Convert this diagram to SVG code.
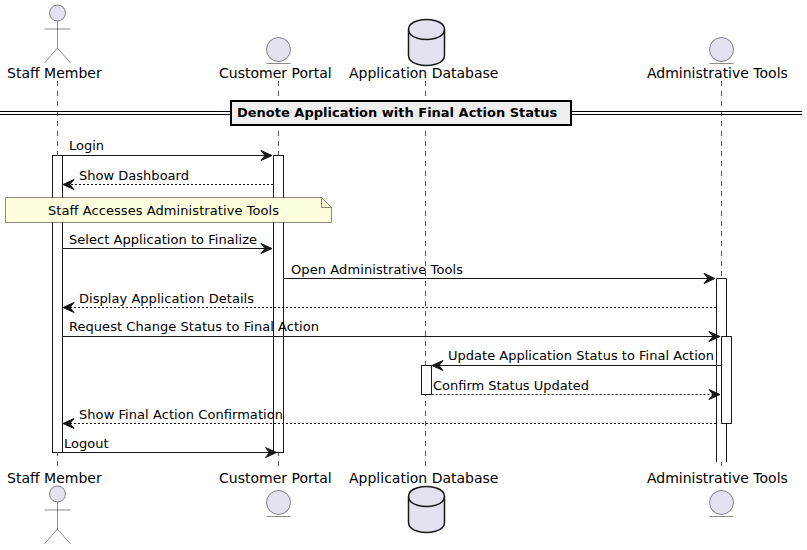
<svg xmlns="http://www.w3.org/2000/svg" width="807" height="550" viewBox="0 0 807 550">
<style>
text{font-family:"DejaVu Sans",sans-serif;font-size:13px;fill:#000}
.name{font-size:14px}
.life{stroke:#555;stroke-width:1;stroke-dasharray:5 5;fill:none}
.act{fill:#fff;stroke:#181818;stroke-width:1}
.actor{fill:#E2E2F0;stroke:#181818;stroke-width:.5}
.limb{fill:none;stroke:#181818;stroke-width:.5}
.ent{fill:#E2E2F0;stroke:#181818;stroke-width:.5}
.db{fill:#E2E2F0;stroke:#181818;stroke-width:1.5}
.m{stroke:#181818;stroke-width:1;fill:none}
.d{stroke:#181818;stroke-width:1;fill:none;stroke-dasharray:2 2}
.h{fill:#181818;stroke:#181818;stroke-width:1}
</style>
<defs>
<g id="stick"><circle class="actor" cx="0" cy="13" r="8"/><path class="limb" d="M0 21V48M-13 29H13M0 48L-13 63M0 48L13 63"/></g>
<g id="entity"><circle class="ent" cx="0" cy="12.5" r="12"/><path class="limb" d="M-12 26.5H12"/></g>
<g id="cyl"><path class="db" d="M-18 10C-18 0 0 0 0 0C0 0 18 0 18 10V36C18 46 0 46 0 46C0 46 -18 46 -18 36Z"/><path class="db" style="fill:none" d="M-18 10C-18 20 0 20 0 20C0 20 18 20 18 10"/></g>
<path id="hr" d="M0 0L-11 -5L-7 0L-11 5Z"/>
</defs>
<g id="lifelines">
<path class="life" d="M57.5 81V466M278.5 81V466M425.5 81V466M721.5 81V466"/>
</g>
<g id="activations">
<rect class="act" x="52.5" y="155.5" width="10" height="297"/>
<rect class="act" x="273.5" y="155.5" width="10" height="297"/>
<path class="act" d="M716.5 462V278.5H726.5V462"/>
<rect class="act" x="721.5" y="336.5" width="10" height="87"/>
<rect class="act" x="421.5" y="365.5" width="10" height="29"/>
</g>
<g id="divider">
<path d="M0 111.5H802M0 114.5H802" stroke="#000" stroke-width="1" fill="none"/>
<rect x="231" y="101" width="340" height="24" fill="#EEE" stroke="#000" stroke-width="2"/>
<text x="237" y="117" style="font-weight:bold">Denote Application with Final Action Status</text>
</g>
<g id="staff-member-top"><use href="#stick" x="57.5" y="0"/><text class="name" x="7" y="78">Staff Member</text></g>
<g id="customer-portal-top"><use href="#entity" x="278.5" y="37"/><text class="name" x="219" y="78">Customer Portal</text></g>
<g id="application-database-top"><use href="#cyl" x="426.5" y="19.5"/><text class="name" x="349" y="78">Application Database</text></g>
<g id="administrative-tools-top"><use href="#entity" x="721.5" y="37"/><text class="name" x="647" y="78">Administrative Tools</text></g>
<g id="staff-member-bottom"><text class="name" x="7" y="483">Staff Member</text><use href="#stick" x="57.5" y="481"/></g>
<g id="customer-portal-bottom"><text class="name" x="219" y="483">Customer Portal</text><use href="#entity" x="278.5" y="490"/></g>
<g id="application-database-bottom"><text class="name" x="349" y="483">Application Database</text><use href="#cyl" x="426.5" y="486.5"/></g>
<g id="administrative-tools-bottom"><text class="name" x="647" y="483">Administrative Tools</text><use href="#entity" x="721.5" y="490"/></g>
<g id="connectors">
<path class="m" d="M62.5 155.5H272"/><use class="h" href="#hr" x="272" y="155.5"/>
<path class="d" d="M273 184.5H64"/><use class="h" href="#hr" transform="translate(63 184.5) scale(-1 1)"/>
<path class="m" d="M62.5 248.5H272"/><use class="h" href="#hr" x="272" y="248.5"/>
<path class="m" d="M283.5 278.5H715"/><use class="h" href="#hr" x="715" y="278.5"/>
<path class="d" d="M716 307.5H64"/><use class="h" href="#hr" transform="translate(63 307.5) scale(-1 1)"/>
<path class="m" d="M62.5 336.5H720"/><use class="h" href="#hr" x="720" y="336.5"/>
<path class="m" d="M721 365.5H433"/><use class="h" href="#hr" transform="translate(432 365.5) scale(-1 1)"/>
<path class="d" d="M431.5 394.5H720"/><use class="h" href="#hr" x="720" y="394.5"/>
<path class="d" d="M716 423.5H64"/><use class="h" href="#hr" transform="translate(63 423.5) scale(-1 1)"/>
<path class="m" d="M62.5 452.5H276"/><use class="h" href="#hr" x="276.5" y="452.5"/>
</g>
<g id="note">
<path d="M5.5 197.5H321.5L331.5 207.5V222.5H5.5Z" fill="#FEFFDD" stroke="#181818" stroke-width=".5"/>
<path d="M321.5 197.5V207.5H331.5" fill="none" stroke="#181818" stroke-width=".5"/>
<text x="48" y="215" textLength="231">Staff Accesses Administrative Tools</text>
</g>
<g id="labels">
<text x="69" y="150">Login</text>
<text x="79" y="180" textLength="110">Show Dashboard</text>
<text x="69" y="244" textLength="188">Select Application to Finalize</text>
<text x="291" y="274" textLength="172">Open Administrative Tools</text>
<text x="79" y="303" textLength="175">Display Application Details</text>
<text x="69" y="331" textLength="250">Request Change Status to Final Action</text>
<text x="448" y="360" textLength="266">Update Application Status to Final Action</text>
<text x="433" y="390" textLength="156">Confirm Status Updated</text>
<text x="79" y="419" textLength="204">Show Final Action Confirmation</text>
<text x="64" y="448">Logout</text>
</g>
</svg>
